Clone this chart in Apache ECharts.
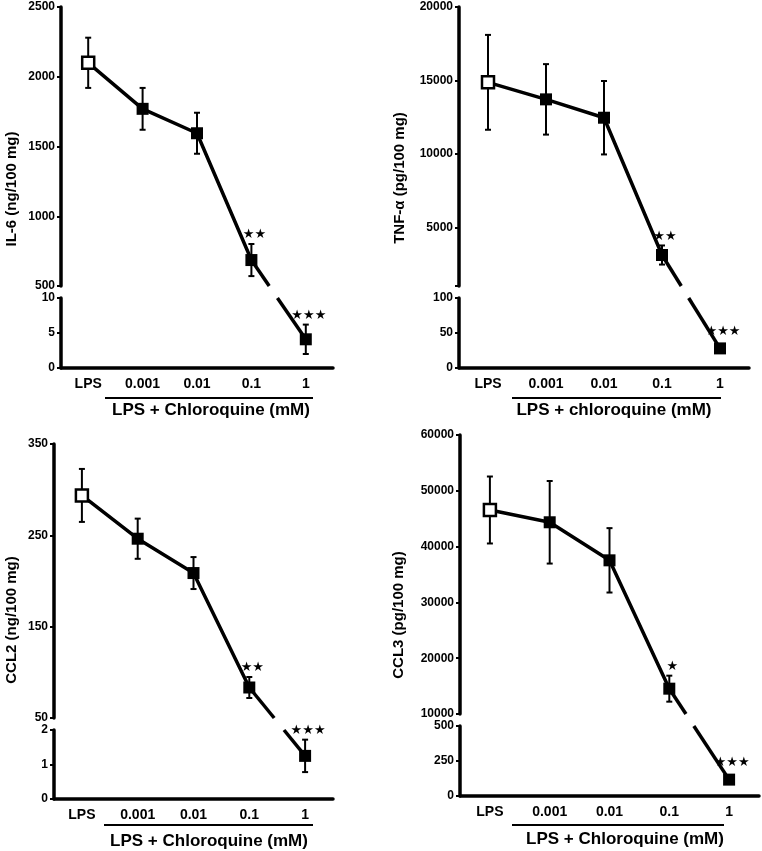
<!DOCTYPE html>
<html><head><meta charset="utf-8">
<script src="https://cdn.jsdelivr.net/npm/echarts@6/dist/echarts.min.js"></script>
<style>html,body{margin:0;padding:0;background:#fff}#c{width:762px;height:851px}</style>
</head><body><div id="c"></div>
<script>
// ---------- data ----------
const categories = ['LPS', '0.001', '0.01', '0.1', '1'];

const il6Mean = [2100, 1770, 1595, 686, 4.1];
const il6Sem  = [180, 150, 147, 115, 2.1];
const il6Sig  = ['', '', '', '★★', '★★★'];
const il6UpperTicks = [500, 1000, 1500, 2000, 2500];
const il6LowerTicks = [0, 5, 10];

const tnfMean = [14870, 13710, 12460, 3110, 28];
const tnfSem  = [3230, 2400, 2500, 650, 2];
const tnfSig  = ['', '', '', '★★', '★★★'];
const tnfUpperTicks = [5000, 10000, 15000, 20000];
const tnfUpperRange = [1000, 20000];
const tnfLowerTicks = [0, 50, 100];

const ccl2Mean = [293.7, 246.3, 208.7, 83.4, 1.25];
const ccl2Sem  = [29, 22, 17.5, 11.5, 0.47];
const ccl2Sig  = ['', '', '', '★★', '★★★'];
const ccl2UpperTicks = [50, 150, 250, 350];
const ccl2LowerTicks = [0, 1, 2];

const ccl3Mean = [46560, 44360, 37540, 14540, 117];
const ccl3Sem  = [6000, 7400, 5770, 2330, 8];
const ccl3Sig  = ['', '', '', '★', '★★★'];
const ccl3UpperTicks = [10000, 20000, 30000, 40000, 50000, 60000];
const ccl3LowerTicks = [0, 250, 500];

// ---------- layout ----------
const FONT = '"Liberation Sans", Arial, sans-serif';
const panels = [
  { mean: il6Mean, sem: il6Sem, sig: il6Sig, uTicks: il6UpperTicks, uMin: 500, uMax: 2500, lTicks: il6LowerTicks,
    yTitle: 'IL-6 (ng/100 mg)', xTitle: 'LPS + Chloroquine (mM)',
    box: { left: 61, width: 272, uTop: 7, uH: 279, lTop: 298, lH: 70, ty: [12, 189], br: [105, 313, 398], tx: [211, 410] } },
  { mean: tnfMean, sem: tnfSem, sig: tnfSig, uTicks: tnfUpperTicks, uMin: tnfUpperRange[0], uMax: tnfUpperRange[1], lTicks: tnfLowerTicks,
    yTitle: 'TNF-α (pg/100 mg)', xTitle: 'LPS + chloroquine (mM)',
    box: { left: 459, width: 290, uTop: 7, uH: 279, lTop: 298, lH: 70, ty: [400, 178], br: [512, 721, 398], tx: [614, 410] } },
  { mean: ccl2Mean, sem: ccl2Sem, sig: ccl2Sig, uTicks: ccl2UpperTicks, uMin: 50, uMax: 350, lTicks: ccl2LowerTicks,
    yTitle: 'CCL2 (ng/100 mg)', xTitle: 'LPS + Chloroquine (mM)',
    box: { left: 54, width: 279, uTop: 444, uH: 274, lTop: 730, lH: 69, ty: [12, 620], br: [104, 313, 825], tx: [209, 841] } },
  { mean: ccl3Mean, sem: ccl3Sem, sig: ccl3Sig, uTicks: ccl3UpperTicks, uMin: 10000, uMax: 60000, lTicks: ccl3LowerTicks,
    yTitle: 'CCL3 (pg/100 mg)', xTitle: 'LPS + Chloroquine (mM)',
    box: { left: 460, width: 299, uTop: 435, uH: 279, lTop: 726, lH: 70, ty: [399, 615], br: [512, 724, 825], tx: [625, 839] } }
];

const grids = [], xAxes = [], yAxes = [], series = [];

function yAxisDef(gi, min, max, ticks, tickVals) {
  return {
    gridIndex: gi, type: 'value', min: min, max: max,
    axisLine: { show: true, lineStyle: { color: '#000', width: 3.5 } },
    axisTick: { show: true, length: 4, lineStyle: { color: '#000', width: 2 }, customValues: tickVals || ticks },
    axisLabel: { color: '#000', fontFamily: FONT, fontWeight: 'bold', fontSize: 12, margin: 6, customValues: ticks,
      formatter: v => String(v) },
    splitLine: { show: false }
  };
}

function errSeries(ai, idxs, p) {
  return {
    type: 'custom', xAxisIndex: ai, yAxisIndex: ai, z: 1, silent: true, clip: false,
    data: idxs.map(i => [i, p.mean[i], p.sem[i], i]),
    renderItem: function (params, api) {
      const i = api.value(3);
      const x = api.value(0), m = api.value(1), s = api.value(2);
      const t = api.coord([x, m + s]), b = api.coord([x, m - s]);
      const st = { stroke: '#000', lineWidth: 2 };
      const ch = [
        { type: 'line', shape: { x1: t[0], y1: t[1], x2: b[0], y2: b[1] }, style: st },
        { type: 'line', shape: { x1: t[0] - 3, y1: t[1], x2: t[0] + 3, y2: t[1] }, style: st },
        { type: 'line', shape: { x1: b[0] - 3, y1: b[1], x2: b[0] + 3, y2: b[1] }, style: st }
      ];
      const sg = p.sig[i];
      if (sg) {
        ch.push({ type: 'text', z2: 10, style: { text: sg, x: t[0] + 3, y: Math.min(t[1], api.coord([x, m])[1] - 8) - 9,
          align: 'center', verticalAlign: 'middle', font: '13px "DejaVu Sans"', fill: '#000' } });
      }
      return { type: 'group', children: ch };
    }
  };
}

panels.forEach((p, k) => {
  const b = p.box;
  const u = 2 * k, l = 2 * k + 1;
  grids.push({ left: b.left, top: b.uTop, width: b.width, height: b.uH });
  grids.push({ left: b.left, top: b.lTop, width: b.width, height: b.lH });
  xAxes.push({ gridIndex: u, type: 'category', data: categories, show: false, boundaryGap: true });
  xAxes.push({
    gridIndex: l, type: 'category', data: categories, boundaryGap: true,
    axisLine: { lineStyle: { color: '#000', width: 3.5 } },
    axisTick: { alignWithLabel: true, length: 4, lineStyle: { color: '#000', width: 2 } },
    axisLabel: { color: '#000', fontFamily: FONT, fontWeight: 'bold', fontSize: 14, margin: 9 }
  });
  const uTickVals = (p.uTicks[0] > p.uMin) ? [p.uMin].concat(p.uTicks) : p.uTicks;
  yAxes.push(yAxisDef(u, p.uMin, p.uMax, p.uTicks, uTickVals));
  yAxes.push(yAxisDef(l, p.lTicks[0], p.lTicks[p.lTicks.length - 1], p.lTicks));

  series.push({
    type: 'line', xAxisIndex: u, yAxisIndex: u, z: 2,
    data: p.mean.slice(0, 4).map((v, i) => i === 0
      ? { value: v, itemStyle: { color: '#fff', borderColor: '#000', borderWidth: 2.5 } } : v),
    symbol: 'rect', symbolSize: 12, showAllSymbol: true,
    lineStyle: { color: '#000', width: 3.5 }, itemStyle: { color: '#000', opacity: 1 }
  });
  series.push(errSeries(u, [0, 1, 2, 3], p));
  series.push({
    type: 'scatter', xAxisIndex: l, yAxisIndex: l, z: 2,
    data: [[4, p.mean[4]]], symbol: 'rect', symbolSize: 12, itemStyle: { color: '#000', opacity: 1 }
  });
  series.push(errSeries(l, [4], p));
});

const chart = echarts.init(document.getElementById('c'), null, { renderer: 'canvas' });
chart.setOption({ animation: false, backgroundColor: '#fff', grid: grids, xAxis: xAxes, yAxis: yAxes, series: series });

// decorations derived from the chart's own scales
const gfx = [];
panels.forEach((p, k) => {
  const b = p.box;
  const u = 2 * k, l = 2 * k + 1;
  const a = chart.convertToPixel({ xAxisIndex: u, yAxisIndex: u }, [3, p.mean[3]]);
  const c = chart.convertToPixel({ xAxisIndex: l, yAxisIndex: l }, [4, p.mean[4]]);
  const yb = b.uTop + b.uH, yt = b.lTop;
  const xAt = y => a[0] + (c[0] - a[0]) * (y - a[1]) / (c[1] - a[1]);
  gfx.push({ type: 'line', z: 1, shape: { x1: a[0], y1: a[1], x2: xAt(yb), y2: yb }, style: { stroke: '#000', lineWidth: 3.5 } });
  gfx.push({ type: 'line', z: 1, shape: { x1: xAt(yt), y1: yt, x2: c[0], y2: c[1] }, style: { stroke: '#000', lineWidth: 3.5 } });
  gfx.push({ type: 'line', z: 1, shape: { x1: b.br[0], y1: b.br[2], x2: b.br[1], y2: b.br[2] }, style: { stroke: '#000', lineWidth: 2 } });
  gfx.push({ type: 'text', z: 5, x: b.tx[0], y: b.tx[1], style: { text: p.xTitle, font: 'bold 17px ' + FONT, fill: '#000', align: 'center', verticalAlign: 'middle' } });
  gfx.push({ type: 'text', z: 5, x: b.ty[0], y: b.ty[1], rotation: Math.PI / 2, style: { text: p.yTitle, font: 'bold 15px ' + FONT, fill: '#000', align: 'center', verticalAlign: 'middle' } });
});
chart.setOption({ graphic: gfx });
</script>
</body></html>
